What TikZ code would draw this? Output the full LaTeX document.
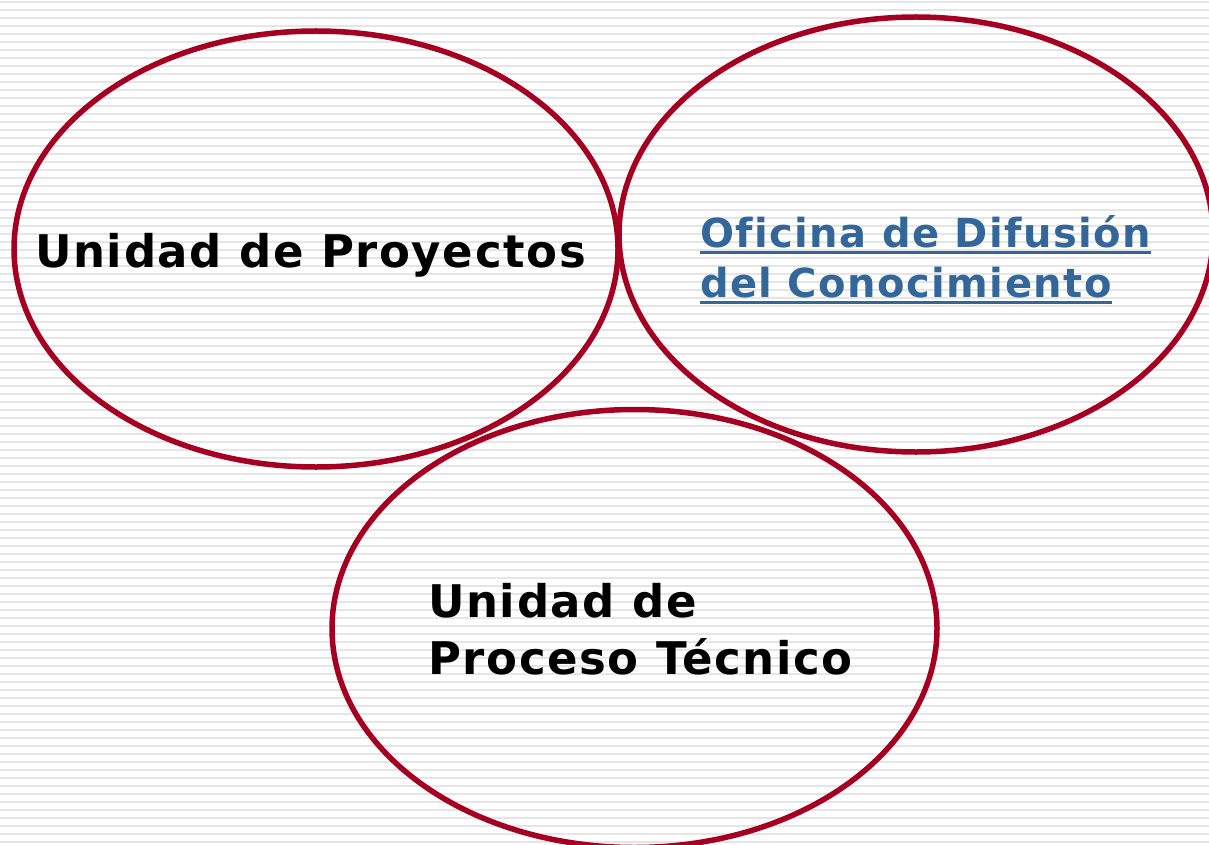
\documentclass[tikz,border=0pt]{standalone}
\usepackage{fontspec}
\setmainfont[Ligatures=NoCommon,LetterSpace=3.6]{DejaVu Sans}
\usetikzlibrary{shapes.geometric,calc}
\definecolor{ringred}{HTML}{A50021}
\definecolor{linkblue}{HTML}{336699}
\definecolor{stripe}{HTML}{E5E5E5}
\tikzset{
  ring/.style={ellipse, draw=ringred, line width=5.5pt, inner sep=0pt, outer sep=0pt},
  blacklabel/.style={anchor=base west, inner sep=0pt, font=\bfseries\fontsize{45}{57}\selectfont, text=black, align=left},
  bluelabel/.style={anchor=base west, inner sep=0pt, font=\bfseries\fontsize{40}{50}\selectfont, text=linkblue},
  uline/.style={draw=linkblue, line width=3pt}
}
\begin{document}
\begin{tikzpicture}[x=1pt,y=-1pt]
\useasboundingbox (0,0) rectangle (1209,845);
\fill[white] (0,0) rectangle (1209,845);
\foreach \k in {0,...,105} {
  \fill[stripe] (0,{1+8*\k}) rectangle (1209,{3.2+8*\k});
}
\node[ring, minimum width=604pt, minimum height=436pt] (left) at (316,249) {};
\node[ring, minimum width=594pt, minimum height=435pt] (right) at (916,234.5) {};
\node[ring, minimum width=605pt, minimum height=438pt] (bottom) at (634.5,628.5) {};

\node[blacklabel] (lp) at (35,267) {Unidad de Proyectos};

\node[bluelabel] (o1) at (700,247) {Oficina de Difusión};
\node[bluelabel] (o2) at (700,297) {del Conocimiento};
\draw[uline] ($(o1.base west)+(0,5.5)$) -- ($(o1.base east)+(0,5.5)$);
\draw[uline] ($(o2.base west)+(0,5.5)$) -- ($(o2.base east)+(0,5.5)$);

\node[blacklabel] (b1) at (428,617) {Unidad de};
\node[blacklabel] (b2) at (428,674) {Proceso Técnico};
\end{tikzpicture}
\end{document}
